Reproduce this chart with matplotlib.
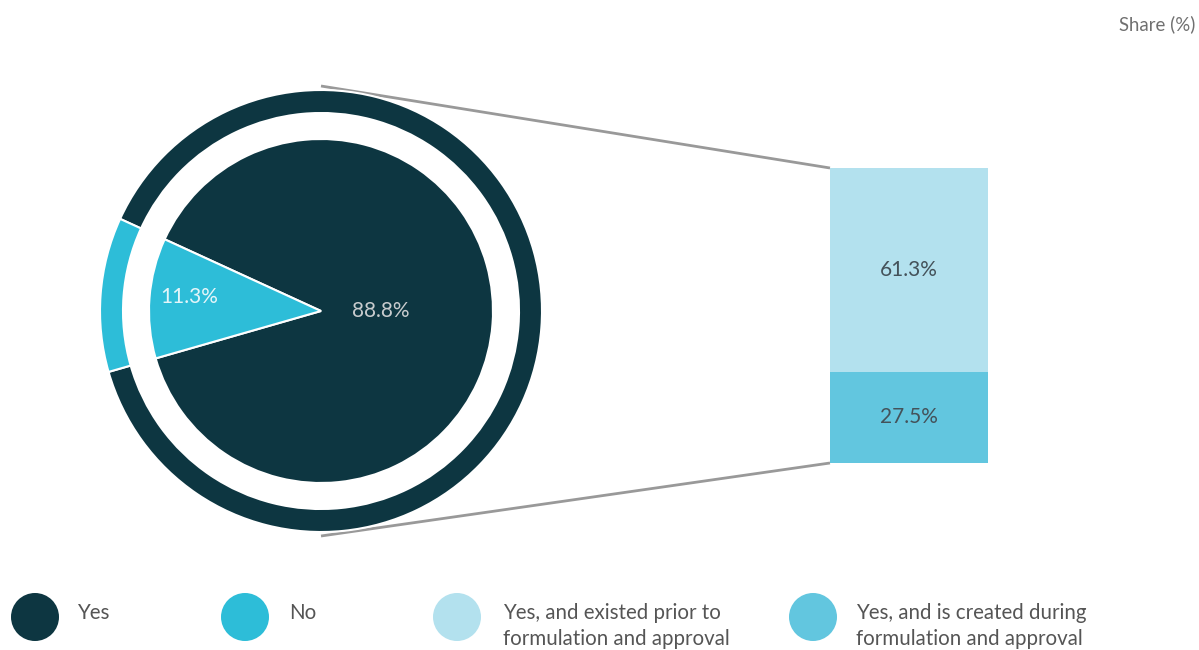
import matplotlib
matplotlib.use("Agg")
import matplotlib.pyplot as plt
from matplotlib.patches import Circle

plt.rcParams['font.family'] = ['Lato', 'DejaVu Sans']

# Data
pie_labels = ["Yes", "No"]
pie_values = [88.8, 11.3]
bar_labels = ["Yes, and is created during\nformulation and approval",
              "Yes, and existed prior to\nformulation and approval"]
bar_values = [27.5, 61.3]  # bottom segment first, then top segment

c_yes = "#0d3641"
c_no = "#2dbdd8"
c_prior = "#b3e1ee"
c_created = "#62c6df"

W, H = 1199, 650
fig = plt.figure(figsize=(W / 100, H / 100), dpi=100)

# Overlay in pixel coordinates for connectors, legend and titles
ov = fig.add_axes([0, 0, 1, 1])
ov.set_xlim(0, W)
ov.set_ylim(H, 0)
ov.axis("off")

# Pie placement (pixels)
cx, cy, r_out = 321, 311, 221
r_ring_in = 198
r_pie = 172

# Bar placement (pixels)
bx0, bx1, by0, by1 = 830, 988, 168, 463

# Connector lines from the top/bottom of the ring to the bar corners
ov.plot([cx, bx0], [cy - r_out - 4, by0], color="#999999", lw=2, solid_capstyle="butt")
ov.plot([cx, bx0], [cy + r_out + 4, by1], color="#999999", lw=2, solid_capstyle="butt")

# Pie + outer ring
pax = fig.add_axes([(cx - r_out) / W, (H - cy - r_out) / H, 2 * r_out / W, 2 * r_out / H])
start = 196.0
pax.pie(pie_values, colors=[c_yes, c_no], radius=1.0, startangle=start,
        counterclock=True,
        wedgeprops=dict(width=(r_out - r_ring_in) / r_out, edgecolor="white", linewidth=1.5))
wedges, _ = pax.pie(pie_values, colors=[c_yes, c_no], radius=r_pie / r_out,
                    startangle=start, counterclock=True,
                    wedgeprops=dict(edgecolor="white", linewidth=1.5))
pax.set_xlim(-1, 1)
pax.set_ylim(-1, 1)
pax.axis("off")

# Pie value labels
pax.text((381 - cx) / r_out, (cy - 311) / r_out, f"{pie_values[0]}%", color="#c8ccce",
         fontsize=15, ha="center", va="center")
pax.text((189 - cx) / r_out, (cy - 297) / r_out, f"{pie_values[1]}%", color="#e4f5f9",
         fontsize=15, ha="center", va="center")

# Stacked bar
bax = fig.add_axes([bx0 / W, (H - by1) / H, (bx1 - bx0) / W, (by1 - by0) / H])
bottom = 0
for val, col in zip(bar_values, [c_created, c_prior]):
    bax.bar(0, val, bottom=bottom, width=1.0, color=col, edgecolor="none")
    bax.text(0, bottom + val / 2, f"{val}%", ha="center", va="center",
             fontsize=15, color="#44525a")
    bottom += val
bax.set_xlim(-0.5, 0.5)
bax.set_ylim(0, sum(bar_values))
bax.axis("off")

# Title on the right
ov.text(1195, 24, "Share (%)", ha="right", va="center", fontsize=13.4,
        color="#707070")

# Legend
txt_col = "#555555"
legend_items = [
    (35, c_yes, pie_labels[0], 77),
    (245, c_no, pie_labels[1], 289),
    (457, c_prior, bar_labels[1], 503),
    (813, c_created, bar_labels[0], 856),
]
for x, col, lab, tx in legend_items:
    ov.add_patch(Circle((x, 617), 24, color=col, ec="none"))
    lines = lab.split("\n")
    if len(lines) == 1:
        ov.text(tx, 613, lab, ha="left", va="center", fontsize=14.8, color=txt_col)
    else:
        ov.text(tx, 613, lines[0], ha="left", va="center", fontsize=14.8, color=txt_col)
        ov.text(tx, 639, lines[1], ha="left", va="center", fontsize=14.8, color=txt_col)

fig.savefig("out.png", dpi=100, facecolor="white")
